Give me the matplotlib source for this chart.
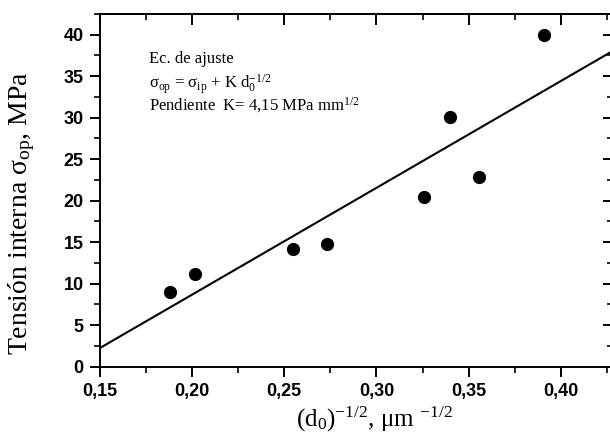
import matplotlib
matplotlib.use("Agg")
import matplotlib.pyplot as plt
from matplotlib.ticker import MultipleLocator, FuncFormatter

# ---- data ----
d_inv = [0.188, 0.2018, 0.255, 0.273, 0.3257, 0.3398, 0.3555, 0.3908]
sigma_op = [9.04, 11.2, 14.16, 14.8, 20.46, 30.03, 22.9, 40.0]
fit_x = [0.15, 0.43]
fit_y = [2.22, 38.3]

x_ticks = [0.15, 0.20, 0.25, 0.30, 0.35, 0.40]
y_ticks = [0, 5, 10, 15, 20, 25, 30, 35, 40]

plt.rcParams['mathtext.fontset'] = 'custom'
plt.rcParams['mathtext.rm'] = 'Liberation Serif'
plt.rcParams['mathtext.it'] = 'Liberation Serif:italic'
plt.rcParams['mathtext.bf'] = 'Liberation Serif:bold'
plt.rcParams['mathtext.default'] = 'regular'

W, H = 610, 445
fig = plt.figure(figsize=(W / 100, H / 100), dpi=100)
left_px, right_px, top_px, bot_px = 99.5, 613, 14, 366.7
ax = fig.add_axes([left_px / W, 1 - bot_px / H, (right_px - left_px) / W, (bot_px - top_px) / H])

ax.plot(fit_x, fit_y, color='black', lw=1.5, zorder=2)
ax.plot(d_inv, sigma_op, 'o', color='black', ms=8.5, zorder=3)

ax.set_xlim(0.15, 0.15 + (right_px - left_px) / 92.3 * 0.05)
ax.set_ylim(0, 42.5)

ax.set_xticks(x_ticks)
ax.set_yticks(y_ticks)
ax.xaxis.set_minor_locator(MultipleLocator(0.025))
ax.yaxis.set_minor_locator(MultipleLocator(2.5))
ax.xaxis.set_major_formatter(FuncFormatter(lambda v, p: f"{v:.2f}".replace('.', ',')))
ax.yaxis.set_major_formatter(FuncFormatter(lambda v, p: f"{v:.0f}"))

for s in ax.spines.values():
    s.set_linewidth(1.4)

ax.tick_params(axis='both', which='major', direction='out', length=7.5, width=1.4, pad=4,
               labelsize=13, top=False, right=False)
ax.tick_params(axis='both', which='minor', direction='out', length=4, width=1.2,
               top=False, right=False)
for lab in ax.get_xticklabels() + ax.get_yticklabels():
    lab.set_fontfamily('Liberation Sans')
    lab.set_fontweight('bold')

# top and right inward ticks
secx = ax.secondary_xaxis('top')
secx.set_xticks(x_ticks)
secx.xaxis.set_minor_locator(MultipleLocator(0.025))
secx.tick_params(which='major', direction='in', length=8, width=1.4, labeltop=False)
secx.tick_params(which='minor', direction='in', length=4.5, width=1.2)
secx.spines['top'].set_linewidth(1.4)

secy = ax.secondary_yaxis('right')
secy.set_yticks(y_ticks)
secy.yaxis.set_minor_locator(MultipleLocator(2.5))
secy.tick_params(which='major', direction='in', length=7, width=1.4, labelright=False)
secy.tick_params(which='minor', direction='in', length=4, width=1.2)

serif = 'Liberation Serif'
fig.text(22 / W, 1 - 213 / H, 'Tensión interna σ$_{op}$, MPa', rotation=90,
         ha='center', va='center', family=serif, fontsize=20)
fig.text(374 / W, 1 - 427 / H, '(d$_0$)$^{-1/2}$, μm $^{-1/2}$',
         ha='center', va='baseline', family=serif, fontsize=18)

fig.text(149 / W, 1 - 62.7 / H, 'Ec. de ajuste', ha='left', va='baseline',
         family=serif, fontsize=12)
fig.text(149 / W, 1 - 88.5 / H, 'σ$_{op}$ = σ$_{ip}$ + K d$_0^{-1/2}$', ha='left', va='baseline',
         family=serif, fontsize=12)
fig.text(149 / W, 1 - 110.5 / H, 'Pendiente  K= 4,15 MPa mm$^{1/2}$', ha='left', va='baseline',
         family=serif, fontsize=12)

fig.savefig('out.png', dpi=100)
